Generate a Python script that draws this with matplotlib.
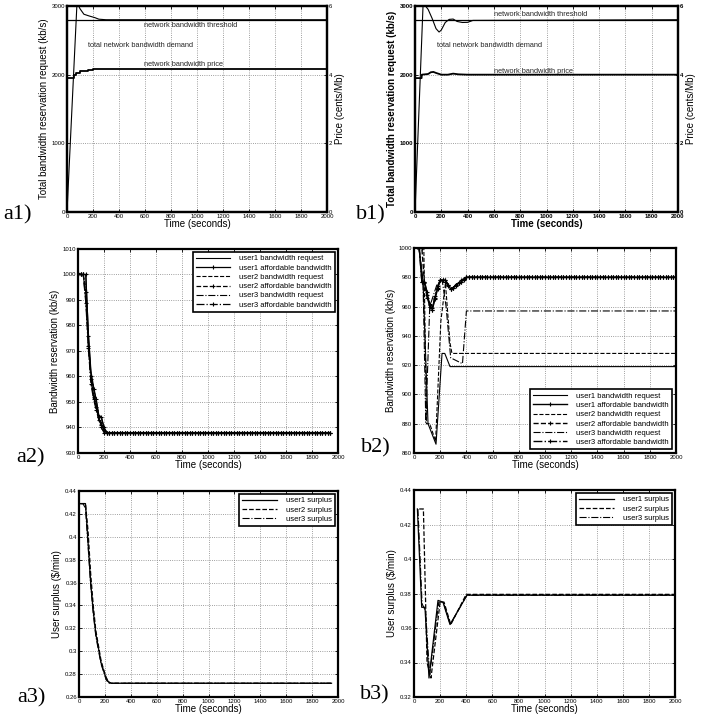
import numpy as np
import matplotlib
matplotlib.use("Agg")
import matplotlib.pyplot as plt

plt.rcParams['font.family'] = ['Liberation Sans', 'DejaVu Sans']

# ---- a1: total demand / threshold / price (case a)
a1_t_demand = [0, 77, 100, 130, 170, 215, 245, 300, 2000]
a1_demand = [0, 3050, 2960, 2880, 2855, 2830, 2808, 2800, 2800]
a1_t_price = [0, 50, 70, 100, 130, 160, 200, 240, 2000]
a1_price = [3.9, 4.0, 4.06, 4.1, 4.12, 4.14, 4.16, 4.17, 4.17]

# ---- b1: total demand / threshold / price (case b)
b1_t_demand = [0, 62, 80, 100, 130, 160, 183, 200, 230, 260, 290, 320, 360, 400, 440, 2000]
b1_demand = [0, 3050, 3000, 2950, 2820, 2670, 2621, 2650, 2760, 2805, 2810, 2775, 2760, 2762, 2790, 2800]
b1_t_price = [0, 50, 52, 100, 120, 140, 160, 200, 250, 290, 330, 400, 2000]
b1_price = [3.9, 3.9, 4.0, 4.02, 4.07, 4.08, 4.05, 4.0, 4.0, 4.03, 4.01, 4.0, 4.0]

threshold = 2800

# ---- a2: bandwidth reservation (case a), sampled every 20 s
a2_t = np.arange(0, 1960, 20)
a2_u1_req_head = [1000.5, 1000, 1000, 1000, 977, 962, 956, 951, 945, 944, 940, 938]
a2_u1_aff_head = [1000.5, 1000, 1000, 1000, 976, 960, 955, 951, 944, 944, 940, 938]
a2_u2_req_head = [1000, 1000, 1000, 995, 974, 960, 953, 949, 944, 942, 939, 938]
a2_u2_aff_head = [1000, 1000, 1000, 993, 972, 959, 952, 948, 944, 941, 939, 938]
a2_u3_req_head = [1000, 1000, 1000, 990, 972, 958, 952, 948, 943, 941, 939, 938]
a2_u3_aff_head = [1000, 1000, 1000, 989, 971, 957, 951, 947, 943, 940, 938, 938]
a2_steady = 938

# ---- b2: bandwidth reservation (case b)
b2_u1_req_t = [38, 69, 107, 168, 214, 235, 275, 2000]
b2_u1_req = [1000, 977, 880, 866, 928, 928, 919, 919]
b2_u2_req_t = [60, 75, 95, 120, 165, 205, 240, 275, 290, 2000]
b2_u2_req = [1000, 1000, 880, 880, 868, 950, 976, 935, 928, 928]
b2_u3_req_t = [38, 69, 90, 120, 175, 215, 245, 280, 370, 400, 2000]
b2_u3_req = [1000, 977, 881, 960, 975, 978, 960, 925, 921, 957, 957]
b2_aff_t = np.arange(20, 2001, 20)
b2_u1_aff_head = [1002, 1000, 977, 977, 970, 960, 958, 965, 972, 978, 978, 978, 975, 972, 973, 975, 976, 977, 978, 980]
b2_u2_aff_head = [1002, 1001, 1000, 976, 966, 961, 959, 966, 973, 978, 978, 977, 974, 972, 973, 975, 976, 978, 979, 980]
b2_u3_aff_head = [1001, 1000, 977, 977, 968, 962, 958, 967, 974, 978, 978, 978, 975, 972, 973, 974, 976, 977, 979, 980]
b2_steady = 980

# ---- a3: user surplus (case a)
a3_t = np.arange(10, 1960, 20)
a3_u1_head = [0.429, 0.429, 0.429, 0.395, 0.36, 0.335, 0.315, 0.303, 0.29, 0.283, 0.276, 0.273, 0.272]
a3_u2_head = [0.429, 0.429, 0.429, 0.405, 0.368, 0.34, 0.318, 0.305, 0.292, 0.284, 0.277, 0.273, 0.272]
a3_u3_head = [0.429, 0.429, 0.425, 0.392, 0.358, 0.333, 0.313, 0.301, 0.289, 0.282, 0.275, 0.272, 0.272]
a3_steady = 0.272

# ---- b3: user surplus (case b)
b3_u1_t = [26, 59, 84, 115, 184, 222, 276, 406, 2000]
b3_u1 = [0.429, 0.372, 0.372, 0.331, 0.376, 0.375, 0.362, 0.379, 0.379]
b3_u2_t = [40, 72, 100, 130, 200, 230, 282, 400, 2000]
b3_u2 = [0.429, 0.429, 0.34, 0.331, 0.375, 0.375, 0.362, 0.3795, 0.3795]
b3_u3_t = [30, 62, 88, 120, 190, 225, 278, 404, 2000]
b3_u3 = [0.429, 0.374, 0.37, 0.333, 0.375, 0.375, 0.362, 0.379, 0.379]

W, H = 707, 723
fig = plt.figure(figsize=(W / 100, H / 100), dpi=100)


def add_ax(l, r, t, b):
    return fig.add_axes([l / W, 1 - b / H, (r - l) / W, (b - t) / H])


def style(ax, xt, yt, bold=False, right=True):
    ax.set_xticks(xt)
    ax.set_yticks(yt)
    fw = 'bold' if bold else 'normal'
    ax.tick_params(direction='in', length=2.5, width=0.6, labelsize=4.3, pad=1.5,
                   top=True, right=right)
    for lab in ax.get_xticklabels() + ax.get_yticklabels():
        lab.set_fontweight(fw)
    ax.grid(True, linestyle=':', color='0.5', linewidth=0.6)
    for s in ax.spines.values():
        s.set_linewidth(1.6)


def tick_fmt(vals):
    return ['%g' % v for v in vals]


def box_legend(ax, loc, pad):
    leg = ax.legend(loc=loc, fontsize=5.5, handlelength=4.5, borderpad=0.4,
                    labelspacing=0.25, fancybox=False, edgecolor='k', framealpha=1,
                    borderaxespad=pad, handletextpad=1.2)
    leg.get_frame().set_linewidth(1.2)


xt = list(range(0, 2001, 200))
lbl = dict(fontsize=7)

# ================= a1 / b1 =================
for (l, r), bold, td, dm, tp, pr, txt_pos in [
        ((67, 327), False, a1_t_demand, a1_demand, a1_t_price, a1_price,
         [(592, 2709), (160, 2432), (592, 2155)]),
        ((415, 678), True, b1_t_demand, b1_demand, b1_t_price, b1_price,
         [(600, 2870), (167, 2432), (600, 2053)])]:
    ax = add_ax(l, r, 6, 212)
    ax.plot(td, dm, color='k', lw=0.8)
    ax.axhline(threshold, color='k', lw=0.9)
    ax.set_xlim(0, 2000)
    ax.set_ylim(0, 3000)
    style(ax, xt, [0, 1000, 2000, 3000], bold=bold, right=False)
    fw = 'bold' if bold else 'normal'
    ax.set_xlabel('Time (seconds)', fontweight=fw, labelpad=0, **lbl)
    ax.set_ylabel('Total bandwidth reservation request (kb/s)', fontweight=fw, labelpad=2, **lbl)
    ax2 = ax.twinx()
    if bold:
        ax2.plot(tp, pr, color='k', lw=1.3)
    else:
        ax2.plot(tp, pr, color='k', lw=1.3, drawstyle='steps-post')
    ax2.set_ylim(0, 6)
    ax2.set_yticks([0, 2, 4, 6])
    ax2.tick_params(direction='in', length=2.5, width=0.6, labelsize=4.3, pad=1.5)
    for lab in ax2.get_yticklabels():
        lab.set_fontweight(fw)
    ax2.set_ylabel('Price (cents/Mb)', labelpad=2, **lbl)
    for s in ax2.spines.values():
        s.set_linewidth(1.6)
    texts = ['network bandwidth threshold', 'total network bandwidth demand',
             'network bandwidth price']
    for s, (x, y) in zip(texts, txt_pos):
        ax.text(x, y, s, fontsize=5.3, color='0.15', va='center')

# ================= a2 =================
ax = add_ax(78, 338, 249, 453)
n = len(a2_t)


def full(head, steady):
    return list(head) + [steady] * (n - len(head))


mk = dict(marker='+', markersize=3, markeredgewidth=0.8)
ax.plot(a2_t, full(a2_u1_req_head, a2_steady), 'k-', lw=0.8, label='user1 bandwidth request')
ax.plot(a2_t, full(a2_u1_aff_head, a2_steady), 'k-', lw=0.9, label='user1 affordable bandwidth', **mk)
ax.plot(a2_t, full(a2_u2_req_head, a2_steady), 'k--', lw=0.8, label='user2 bandwidth request')
ax.plot(a2_t, full(a2_u2_aff_head, a2_steady), 'k--', lw=0.9, label='user2 affordable bandwidth', **mk)
ax.plot(a2_t, full(a2_u3_req_head, a2_steady), 'k-.', lw=0.8, label='user3 bandwidth request')
ax.plot(a2_t, full(a2_u3_aff_head, a2_steady), 'k-.', lw=0.9, label='user3 affordable bandwidth', **mk)
ax.set_xlim(0, 2000)
ax.set_ylim(930, 1010)
style(ax, xt, list(range(930, 1011, 10)))
ax.set_xlabel('Time (seconds)', labelpad=0, **lbl)
ax.set_ylabel('Bandwidth reservation (kb/s)', labelpad=2, **lbl)
box_legend(ax, 'upper right', 0.4)

# ================= b2 =================
ax = add_ax(414, 676, 248, 453)
nb = len(b2_aff_t)


def full_b(head, steady):
    return list(head) + [steady] * (nb - len(head))


ax.plot(b2_u1_req_t, b2_u1_req, 'k-', lw=0.8, label='user1 bandwidth request')
ax.plot(b2_aff_t, full_b(b2_u1_aff_head, b2_steady), 'k-', lw=1.0, label='user1 affordable bandwidth', **mk)
ax.plot(b2_u2_req_t, b2_u2_req, 'k--', lw=0.8, label='user2 bandwidth request')
ax.plot(b2_aff_t, full_b(b2_u2_aff_head, b2_steady), 'k--', lw=1.0, label='user2 affordable bandwidth', **mk)
ax.plot(b2_u3_req_t, b2_u3_req, 'k-.', lw=0.8, label='user3 bandwidth request')
ax.plot(b2_aff_t, full_b(b2_u3_aff_head, b2_steady), 'k-.', lw=1.0, label='user3 affordable bandwidth', **mk)
ax.set_xlim(0, 2000)
ax.set_ylim(860, 1000)
style(ax, xt, list(range(860, 1001, 20)))
ax.set_xlabel('Time (seconds)', labelpad=0, **lbl)
ax.set_ylabel('Bandwidth reservation (kb/s)', labelpad=2, **lbl)
box_legend(ax, 'lower right', 0.5)

# ================= a3 =================
ax = add_ax(79, 338, 491, 697)
na = len(a3_t)


def full_a3(head):
    return list(head) + [a3_steady] * (na - len(head))


ax.plot(a3_t, full_a3(a3_u1_head), 'k-', lw=0.9, label='user1 surplus')
ax.plot(a3_t, full_a3(a3_u2_head), 'k--', lw=0.9, label='user2 surplus')
ax.plot(a3_t, full_a3(a3_u3_head), 'k-.', lw=0.8, label='user3 surplus')
ax.set_xlim(0, 2000)
ax.set_ylim(0.26, 0.44)
yt_a3 = [0.26, 0.28, 0.3, 0.32, 0.34, 0.36, 0.38, 0.4, 0.42, 0.44]
style(ax, xt, yt_a3)
ax.set_yticklabels(tick_fmt(yt_a3))
ax.set_xlabel('Time (seconds)', labelpad=0, **lbl)
ax.set_ylabel('User surplus ($/min)', labelpad=2, **lbl)
box_legend(ax, 'upper right', 0.4)

# ================= b3 =================
ax = add_ax(414, 675, 490, 697)
ax.plot(b3_u1_t, b3_u1, 'k-', lw=0.9, label='user1 surplus')
ax.plot(b3_u2_t, b3_u2, 'k--', lw=0.9, label='user2 surplus')
ax.plot(b3_u3_t, b3_u3, 'k-.', lw=0.8, label='user3 surplus')
ax.set_xlim(0, 2000)
ax.set_ylim(0.32, 0.44)
yt_b3 = [0.32, 0.34, 0.36, 0.38, 0.4, 0.42, 0.44]
style(ax, xt, yt_b3)
ax.set_yticklabels(tick_fmt(yt_b3))
ax.set_xlabel('Time (seconds)', labelpad=0, **lbl)
ax.set_ylabel('User surplus ($/min)', labelpad=2, **lbl)
box_legend(ax, 'upper right', 0.4)

# panel labels
serif = dict(family=['Liberation Serif', 'DejaVu Serif'], fontsize=16, va='center', ha='left')
for s, x, y in [('a1)', 3, 215), ('b1)', 356, 215), ('a2)', 16, 458), ('b2)', 361, 448),
                ('a3)', 17, 698), ('b3)', 360, 695)]:
    fig.text(x / W, 1 - y / H, s, **serif)

fig.savefig('out.png', dpi=100)
